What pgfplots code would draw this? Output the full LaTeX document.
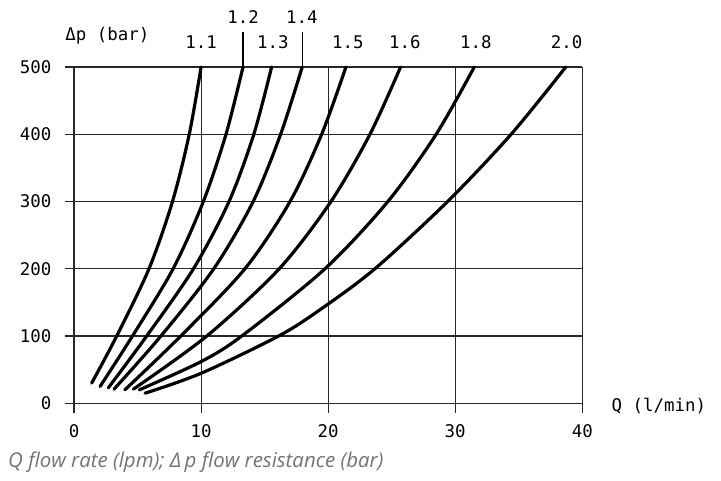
\documentclass[border=0pt]{standalone}
\usepackage{pgfplots}
\pgfplotsset{compat=1.18}
\usepackage{fontspec}
\setmainfont{DejaVu Sans Mono}
\newfontfamily\capfont{Open Sans}
\begin{document}
\begin{tikzpicture}[x=1bp,y=1bp]
\useasboundingbox (-74bp,-77.7bp) rectangle (647bp,403.3bp);
\begin{axis}[
  at={(0,0)}, anchor=origin,
  scale only axis, width=508.3bp, height=336.3bp,
  xmin=0, xmax=40, ymin=0, ymax=500,
  clip=false,
  axis line style={draw=none},
  major tick length=0pt,
  xtick={0,10,20,30,40}, ytick={0,100,200,300,400,500},
  tick label style={font=\fontsize{17.5}{19}\selectfont},
  /pgf/number format/assume math mode=true,
  yticklabel style={xshift=-19bp},
  xticklabel style={yshift=-18bp},
  curve/.style={line width=3.2pt, black, smooth, tension=0.5, line cap=round, mark=none},
]
% grid
\foreach \yy in {0,100,200,300,400,500} {
  \edef\tmp{\noexpand\draw[line width=1.1pt, black!85] (axis cs:-0.7,\yy) -- (axis cs:40,\yy);}
  \tmp
}
\foreach \xx in {0,10,20,30,40} {
  \edef\tmp{\noexpand\draw[line width=1.1pt, black!85] (axis cs:\xx,-14) -- (axis cs:\xx,500);}
  \tmp
}
\draw[line width=1.1pt] (axis cs:13.3,500) -- (axis cs:13.3,552);
\draw[line width=1.1pt] (axis cs:17.96,500) -- (axis cs:17.96,552);

\addplot[curve] coordinates {(1.39,30) (3.36,100) (5.9,200) (7.75,300) (9.07,400) (10.0,500)};
\addplot[curve] coordinates {(2.05,25) (4.6,100) (7.8,200) (10.18,300) (11.96,400) (13.3,500)};
\addplot[curve] coordinates {(2.7,23) (5.72,100) (9.4,200) (12.2,300) (14.15,400) (15.55,500)};
\addplot[curve] coordinates {(3.15,21) (6.84,100) (11.0,200) (14.1,300) (16.26,400) (17.96,500)};
\addplot[curve] coordinates {(4.0,20) (8.4,100) (13.45,200) (17.0,300) (19.49,400) (21.4,500)};
\addplot[curve] coordinates {(4.67,21) (10.45,100) (16.15,200) (20.22,300) (23.29,400) (25.7,500)};
\addplot[curve] coordinates {(5.14,20) (10,62) (13.2,100) (19.75,200) (24.7,300) (28.5,400) (31.5,500)};
\addplot[curve] coordinates {(5.59,15) (10,44.6) (16.1,100) (19.35,139) (23.68,200) (29.4,300) (34.4,400) (38.7,500)};

\begin{scope}[every node/.style={font=\fontsize{17.5}{19}\selectfont, inner sep=0pt}]
\node at (axis cs:10.0,537) {1.1};
\node at (axis cs:13.3,574) {1.2};
\node at (axis cs:15.65,537) {1.3};
\node at (axis cs:17.94,574) {1.4};
\node at (axis cs:21.56,537) {1.5};
\node at (axis cs:26.04,537) {1.6};
\node at (axis cs:31.63,537) {1.8};
\node at (axis cs:38.76,537) {2.0};
\node[anchor=west] at (axis cs:-0.7,547) {Δp (bar)};
\node[anchor=west] at (axis cs:42.3,-4) {Q (l/min)};
\end{scope}
\node[anchor=west, inner sep=0pt, text=black!55, font=\capfont\itshape\fontsize{20.5}{23}\selectfont] at (axis cs:-5.19,-87.3) {Q flow rate (lpm); Δ\,p flow resistance (bar)};
\end{axis}
\end{tikzpicture}
\end{document}
